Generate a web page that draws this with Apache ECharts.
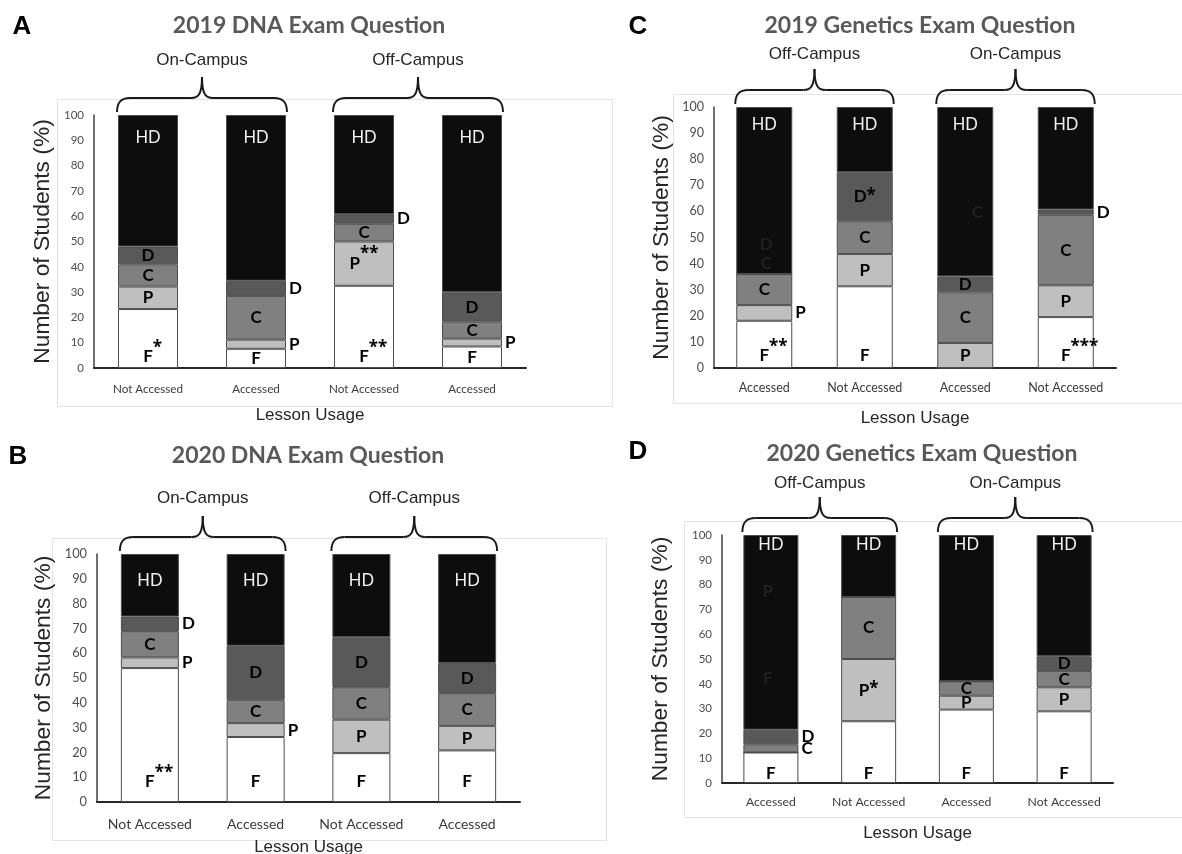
<!DOCTYPE html>
<html>
<head>
<meta charset="utf-8">
<script src="https://cdn.jsdelivr.net/npm/echarts@6/dist/echarts.min.js"></script>
<style>
  html, body { margin: 0; padding: 0; background: #ffffff; }
  #chart { width: 1182px; height: 854px; }
</style>
</head>
<body>
<div id="chart"></div>
<script>
// Grade bands, bottom to top of every stacked bar
const grades = ['F', 'P', 'C', 'D', 'HD'];

// A: 2019 DNA exam question (% of students per grade)
const catsA = ['Not Accessed', 'Accessed', 'Not Accessed', 'Accessed'];
const groupsA = ['On-Campus', 'Off-Campus'];
const fA  = [23.3, 7.6, 32.5, 8.5];
const pA  = [8.9, 3.6, 17.5, 3.1];
const cA  = [8.8, 17.3, 7.0, 6.7];
const dA  = [7.0, 6.0, 3.8, 11.6];
const hdA = [52.0, 65.5, 39.2, 70.1];

// B: 2020 DNA exam question
const catsB = ['Not Accessed', 'Accessed', 'Not Accessed', 'Accessed'];
const groupsB = ['On-Campus', 'Off-Campus'];
const fB  = [54.0, 26.2, 19.7, 20.8];
const pB  = [4.3, 5.6, 13.5, 9.9];
const cB  = [10.6, 9.4, 13.1, 13.2];
const dB  = [5.9, 21.8, 20.1, 12.1];
const hdB = [25.2, 37.0, 33.6, 44.0];

// C: 2019 Genetics exam question
const catsC = ['Accessed', 'Not Accessed', 'Accessed', 'Not Accessed'];
const groupsC = ['Off-Campus', 'On-Campus'];
const fC  = [18.1, 31.3, 0, 19.5];
const pC  = [6.0, 12.4, 9.6, 12.2];
const cC  = [11.9, 12.5, 19.4, 27.0];
const dC  = [0, 18.8, 6.1, 2.0];
const hdC = [64.0, 25.0, 64.9, 39.3];

// D: 2020 Genetics exam question
const catsD = ['Accessed', 'Not Accessed', 'Accessed', 'Not Accessed'];
const groupsD = ['Off-Campus', 'On-Campus'];
const fD  = [12.3, 24.9, 29.6, 28.9];
const pD  = [0, 25.1, 5.6, 9.7];
const cD  = [3.3, 25.0, 5.8, 6.6];
const dD  = [5.9, 0, 0, 5.9];
const hdD = [78.5, 25.0, 59.0, 48.9];

// Grade letter placement per bar, in F, P, C, D order.
// c = centred, r = beside the bar, b = near the base; * = significance marks, ^ = raised marks
const labA = [
  ['b^*', 'c', 'c', 'c'],
  ['c', 'r', 'c', 'r'],
  ['b^**', 'c^**', 'c', 'r'],
  ['c', 'r', 'c', 'c']
];
const labB = [
  ['b^**', 'r', 'c', 'r'],
  ['b', 'r', 'c', 'c'],
  ['b', 'c', 'c', 'c'],
  ['b', 'c', 'c', 'c']
];
const labC = [
  ['b^**', 'r', 'c', ''],
  ['b', 'c', 'c', 'c*'],
  ['', 'c', 'c', 'c'],
  ['b^***', 'c', 'c', 'r']
];
const labD = [
  ['b', '', 'r', 'r'],
  ['b', 'c*', 'c', ''],
  ['b', 'c', 'c', ''],
  ['b', 'c', 'c', 'c']
];

// Leftover letters printed over the black HD band: [bar, value, letter, x shift]
const ghostC = [[0, 47.3, 'D', 2], [0, 40.2, 'C', 2], [2, 59.4, 'C', 12]];
const ghostD = [[0, 77.1, 'P', -3], [0, 42.3, 'F', -3]];

const fills = ['#ffffff', '#bfbfbf', '#808080', '#595959', '#0d0d0d'];

const panels = [
  { letter: 'A', title: '2019 DNA Exam Question', cats: catsA, groups: groupsA,
    vals: [fA, pA, cA, dA, hdA], labels: labA, ghosts: [],
    grid: { left: 94, top: 115, width: 432, height: 253 }, barWidth: 60,
    fBottom: 11, hdTop: 23, catSize: 11.7, tickSize: 11.5, catMargin: 15,
    xNameGap: 39, yNameGap: 40, groupRise: 55,
    box: [57, 99, 612, 406], letterPos: [22, 27], titlePos: [309, 26] },
  { letter: 'B', title: '2020 DNA Exam Question', cats: catsB, groups: groupsB,
    vals: [fB, pB, cB, dB, hdB], labels: labB, ghosts: [],
    grid: { left: 97, top: 554, width: 423, height: 248 }, barWidth: 58,
    fBottom: 20, hdTop: 27, catSize: 14, tickSize: 12.8, catMargin: 15,
    xNameGap: 37, yNameGap: 42, groupRise: 56,
    box: [52, 538, 606, 840], letterPos: [18, 457], titlePos: [308, 456] },
  { letter: 'C', title: '2019 Genetics Exam Question', cats: catsC, groups: groupsC,
    vals: [fC, pC, cC, dC, hdC], labels: labC, ghosts: ghostC,
    grid: { left: 714, top: 107, width: 402, height: 261 }, barWidth: 56,
    fBottom: 12, hdTop: 18, catSize: 12.5, tickSize: 12.5, catMargin: 13,
    xNameGap: 42, yNameGap: 41, groupRise: 53,
    box: [673, 94, 1190, 403], letterPos: [638, 27], titlePos: [920, 26] },
  { letter: 'D', title: '2020 Genetics Exam Question', cats: catsD, groups: groupsD,
    vals: [fD, pD, cD, dD, hdD], labels: labD, ghosts: ghostD,
    grid: { left: 722, top: 535, width: 391, height: 248 }, barWidth: 55,
    fBottom: 9, hdTop: 10, catSize: 12.2, tickSize: 11.5, catMargin: 13,
    xNameGap: 42, yNameGap: 50, groupRise: 52,
    box: [684, 521, 1190, 817], letterPos: [638, 452], titlePos: [922, 454] }
];

const starFont = { fontFamily: 'Open Sans', fontWeight: 'bold', fontSize: 17, lineHeight: 10 };
const rich = {
  l: { fontFamily: 'Lato', fontWeight: 'bold', fontSize: 17, color: '#000000', lineHeight: 20 },
  h: Object.assign({ color: 'rgba(0,0,0,0)' }, starFont),
  s: Object.assign({ color: '#000000', padding: [0, 0, 2, 0] }, starFont),
  u: Object.assign({ color: '#000000', padding: [0, 0, 18, 0] }, starFont)
};

function segLabel(grade, code, p) {
  if (!code) return { show: false };
  const pos = code[0];
  const raised = code.indexOf('^') >= 0;
  const stars = code.replace(/[^*]/g, '');
  let fmt = '{l|' + grade + '}';
  if (stars) {
    fmt = (pos === 'b' ? '{h|' + stars + '}' : '') + fmt + '{' + (raised ? 'u' : 's') + '|' + stars + '}';
  }
  const base = { show: true, formatter: fmt, rich: rich, textBorderWidth: 0 };
  if (pos === 'r') return Object.assign(base, { position: 'right', distance: 3 });
  if (pos === 'b') return Object.assign(base, { position: ['50%', '100%'], offset: [0, -p.fBottom], align: 'center', verticalAlign: 'middle' });
  return Object.assign(base, { position: 'inside' });
}

function hdLabel(p) {
  return { show: true, formatter: 'HD', position: ['50%', 0], offset: [0, p.hdTop], align: 'center', verticalAlign: 'middle',
    color: '#f2f2f2', fontFamily: 'Lato', fontSize: 16.5, fontWeight: 'normal', textBorderWidth: 0 };
}

const grid = [], xAxis = [], yAxis = [], series = [];
panels.forEach((p, i) => {
  grid.push(Object.assign({ containLabel: false, outerBoundsMode: 'none' }, p.grid));
  xAxis.push({
    type: 'category', gridIndex: i, data: p.cats,
    axisLine: { lineStyle: { color: '#262626', width: 2 } },
    axisTick: { show: false },
    axisLabel: { interval: 0, fontFamily: 'Lato', fontSize: p.catSize, color: '#3a3a3a', margin: p.catMargin },
    name: 'Lesson Usage', nameLocation: 'middle', nameGap: p.xNameGap,
    nameTextStyle: { fontFamily: 'Liberation Sans', fontSize: 17, color: '#262626' }
  });
  yAxis.push({
    type: 'value', gridIndex: i, min: 0, max: 100, interval: 10,
    axisLine: { show: true, lineStyle: { color: '#404040', width: 1.5 } },
    axisTick: { show: false }, splitLine: { show: false },
    axisLabel: { fontFamily: 'Lato', fontSize: p.tickSize, color: '#4d4d4d', margin: 10 },
    name: 'Number of Students (%)', nameLocation: 'middle', nameRotate: 90, nameGap: p.yNameGap,
    nameTextStyle: { fontFamily: 'Liberation Sans', fontSize: 22.8, color: '#262626' }
  });
  grades.forEach((g, gi) => {
    series.push({
      type: 'bar', name: g, xAxisIndex: i, yAxisIndex: i, stack: 'panel' + i,
      barWidth: p.barWidth, silent: true,
      itemStyle: { color: fills[gi], borderColor: '#4d4d4d', borderWidth: 1 },
      data: p.vals[gi].map((v, bi) => ({
        value: v,
        label: gi === 4 ? hdLabel(p) : segLabel(g, p.labels[bi][gi], p)
      }))
    });
  });
  if (p.ghosts.length) {
    series.push({
      type: 'scatter', xAxisIndex: i, yAxisIndex: i, symbolSize: 0, silent: true, z: 5,
      data: p.ghosts.map(gh => ({
        value: [gh[0], gh[1]],
        label: { show: true, position: 'inside', formatter: gh[2], offset: [gh[3], 0],
          fontFamily: 'Lato', fontWeight: 'bold', fontSize: 17, color: '#262626' }
      }))
    });
  }
});

const chart = echarts.init(document.getElementById('chart'), null, { renderer: 'canvas' });
chart.setOption({ animation: false, backgroundColor: '#ffffff', grid, xAxis, yAxis, series });

// Frames, titles, panel letters and the group braces above each pair of bars
const braceStyle = { fill: 'none', stroke: '#1a1a1a', lineWidth: 2 };
function braceLine(x1, y1, x2, y2) {
  return { type: 'line', silent: true, shape: { x1, y1, x2, y2 }, style: braceStyle };
}
function braceCurve(x1, y1, cpx1, cpy1, cpx2, cpy2, x2, y2) {
  return { type: 'bezierCurve', silent: true, shape: { x1, y1, cpx1, cpy1, cpx2, cpy2, x2, y2 }, style: braceStyle };
}

const graphic = [];
panels.forEach((p, i) => {
  const b = p.box;
  graphic.push({ type: 'rect', silent: true, z: -1,
    shape: { x: b[0] + 0.5, y: b[1] + 0.5, width: b[2] - b[0], height: b[3] - b[1] },
    style: { fill: 'none', stroke: '#e3e3e3', lineWidth: 1 } });
  graphic.push({ type: 'text', silent: true, x: p.letterPos[0], y: p.letterPos[1],
    style: { text: p.letter, fontFamily: 'Liberation Sans', fontWeight: 'bold', fontSize: 26, fill: '#000000',
      textAlign: 'center', textVerticalAlign: 'middle' } });
  graphic.push({ type: 'text', silent: true, x: p.titlePos[0], y: p.titlePos[1],
    style: { text: p.title, fontFamily: 'Lato', fontWeight: 'bold', fontSize: 23, fill: '#595959',
      textAlign: 'center', textVerticalAlign: 'middle' } });

  const px = (c, v) => chart.convertToPixel({ gridIndex: i }, [c, v]);
  const top = px(0, 100)[1];
  const yEnd = top - 3, yH = top - 17, yTop = top - 38;
  for (let k = 0; k < 2; k++) {
    const L = px(2 * k, 100)[0] - p.barWidth / 2 - 1;
    const R = px(2 * k + 1, 100)[0] + p.barWidth / 2 + 1;
    const M = (L + R) / 2;
    graphic.push(braceCurve(L, yEnd, L, yH + 4, L + 4, yH, L + 13, yH));
    graphic.push(braceLine(L + 13, yH, M - 11, yH));
    graphic.push(braceCurve(M - 11, yH, M - 4, yH, M, yH - 3, M, yTop));
    graphic.push(braceCurve(M, yTop, M, yH - 3, M + 4, yH, M + 11, yH));
    graphic.push(braceLine(M + 11, yH, R - 13, yH));
    graphic.push(braceCurve(R - 13, yH, R - 4, yH, R, yH + 4, R, yEnd));
    graphic.push({ type: 'text', silent: true, x: M, y: top - p.groupRise,
      style: { text: p.groups[k], fontFamily: 'Liberation Sans', fontSize: 17, fill: '#262626',
        textAlign: 'center', textVerticalAlign: 'middle' } });
  }
});
chart.setOption({ graphic });
</script>
</body>
</html>
